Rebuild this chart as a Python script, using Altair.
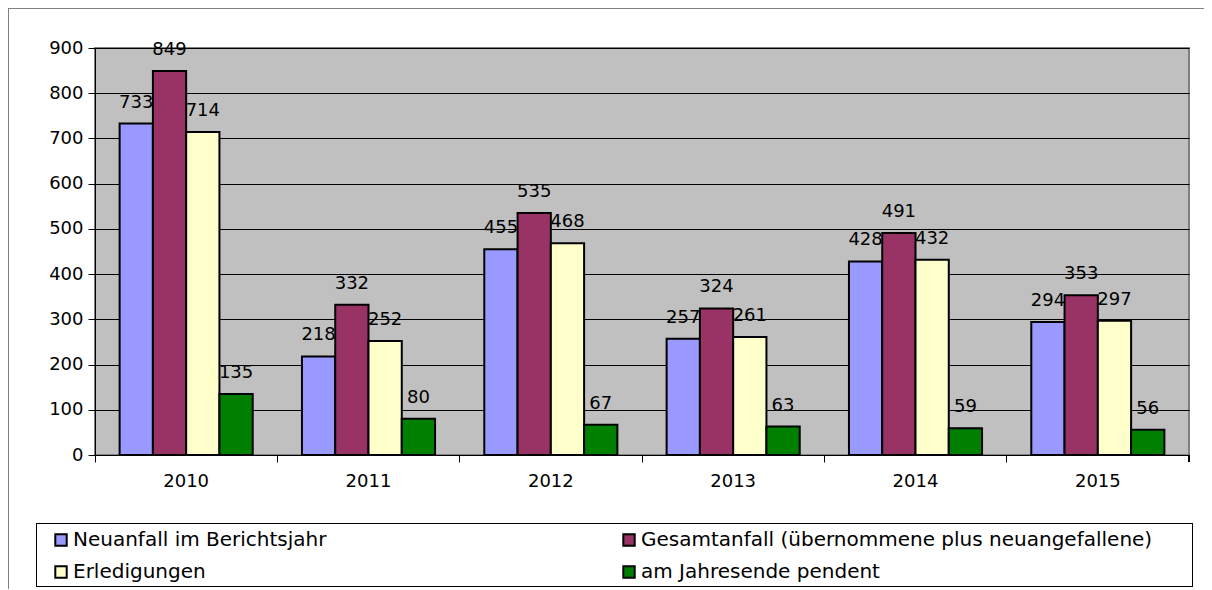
import altair as alt
import pandas as pd

years = ["2010", "2011", "2012", "2013", "2014", "2015"]
series = [
    "Neuanfall im Berichtsjahr",
    "Gesamtanfall (übernommene plus neuangefallene)",
    "Erledigungen",
    "am Jahresende pendent",
]
neuanfall = [733, 218, 455, 257, 428, 294]
gesamtanfall = [849, 332, 535, 324, 491, 353]
erledigungen = [714, 252, 468, 261, 432, 297]
pendent = [135, 80, 67, 63, 59, 56]
colors = ["#9999FF", "#993366", "#FFFFCC", "#008000"]

rows = []
for s, vals in zip(series, [neuanfall, gesamtanfall, erledigungen, pendent]):
    for y, v in zip(years, vals):
        rows.append({"Jahr": y, "Serie": s, "Wert": v})
df = pd.DataFrame(rows)

FONT = "DejaVu Sans"
FS = 18
LFS = 20

x = alt.X("Jahr:N", sort=years, title=None,
          scale=alt.Scale(paddingInner=0, paddingOuter=0),
          axis=alt.Axis(bandPosition=0, labelAngle=0,
                        labelFontSize=FS, labelFont=FONT, labelColor="black",
                        tickColor="black", tickSize=7, domainColor="black",
                        labelPadding=10, grid=False))
xo = alt.XOffset("Serie:N", sort=series,
                 scale=alt.Scale(paddingInner=0, paddingOuter=0.74))
y = alt.Y("Wert:Q", title=None,
          scale=alt.Scale(domain=[0, 900], nice=False),
          axis=alt.Axis(values=list(range(0, 901, 100)), labelFontSize=FS,
                        labelFont=FONT, labelColor="black", tickColor="black",
                        tickSize=7, labelPadding=5, domainColor="black",
                        grid=True, gridColor="black", gridWidth=1, gridOpacity=1))

bars = alt.Chart(df).mark_bar(stroke="black", strokeWidth=2).encode(
    x=x, xOffset=xo, y=y,
    color=alt.Color("Serie:N", sort=series,
                    scale=alt.Scale(domain=series, range=colors),
                    legend=alt.Legend(title=None, orient="none", legendX=-44, legendY=482,
                                      direction="horizontal",
                                      columns=2, columnPadding=292, rowPadding=12,
                                      symbolType="square", symbolSize=130,
                                      symbolStrokeColor="black", symbolStrokeWidth=2,
                                      labelFontSize=LFS, labelFont=FONT, labelColor="black",
                                      labelLimit=700, labelOffset=2)),
)

labels = alt.Chart(df).mark_text(baseline="alphabetic", dy=-16, fontSize=FS,
                                 font=FONT, color="black").encode(
    x=x, xOffset=xo, y=y, text="Wert:Q")

last_tick = alt.Chart(df).mark_rule(color="black", strokeWidth=1).encode(
    x=alt.value(1094), y=alt.value(407), y2=alt.value(414))
legend_box = alt.Chart(df).mark_rect(fill=None, stroke="black", strokeWidth=1).encode(
    x=alt.value(-58.5), x2=alt.value(1097.5), y=alt.value(475.5), y2=alt.value(538.5))
frame_left = alt.Chart(df).mark_rule(color="#808080", strokeWidth=1).encode(
    x=alt.value(-86.5), y=alt.value(-40), y2=alt.value(600))
frame_top = alt.Chart(df).mark_rule(color="#808080", strokeWidth=1).encode(
    x=alt.value(-87), x2=alt.value(1220), y=alt.value(-39.5))

chart = alt.layer(bars, labels, last_tick, legend_box, frame_left, frame_top).properties(
    width=1094, height=407,
    autosize=alt.AutoSizeParams(type="none"),
    padding={"left": 87, "top": 40, "right": 15, "bottom": 134},
).configure_view(fill="#C0C0C0", stroke="#808080", strokeWidth=2)

chart.save("out.html", embed_options={"renderer": "svg", "actions": False})
